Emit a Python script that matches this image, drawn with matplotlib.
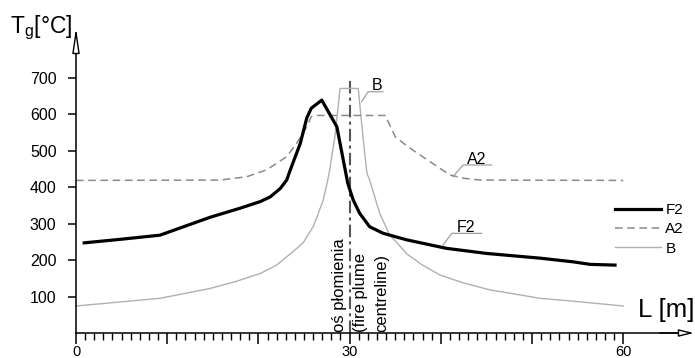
import matplotlib
matplotlib.use('Agg')
import matplotlib.pyplot as plt

plt.rcParams['font.family'] = ['Liberation Sans', 'DejaVu Sans']
plt.rcParams['mathtext.fontset'] = 'custom'
plt.rcParams['mathtext.rm'] = 'Liberation Sans'

# F2 - thick black curve
f2_L = [0.9, 5, 9.2, 14.7, 18, 20.2, 21.3, 22.4, 23.1, 23.5, 24.6, 25.3, 25.8, 26.95,
        28.6, 29.8, 30.4, 31.1, 32.2, 33.7, 36.3, 40.6, 45, 50.9, 54.5, 56.4, 59.1]
f2_T = [247, 257, 268, 317, 342, 360, 373, 396, 419, 447, 520, 589, 616, 638,
        565, 410, 364, 328, 291, 273, 255, 232, 218, 205, 195, 188, 186]

# A2 - dashed grey curve
a2_L = [0, 15.8, 18.7, 20.9, 23.1, 24.2, 25.3, 25.8, 26.2, 33.9, 35, 36.3, 38, 41, 42.5, 44.3, 60]
a2_T = [418, 419, 428, 447, 483, 520, 565, 593, 596, 596, 538, 512, 483, 433, 424, 419, 418]

# B - thin light grey curve
b_L = [0, 9.2, 14.7, 17.5, 20.2, 22, 23.8, 24.9, 26, 26.5, 27.1, 27.6, 27.8, 28.4, 28.95,
       30.95, 31.14, 31.5, 31.9, 32.2, 33.3, 34.4, 35.2, 36.3, 38, 39.9, 42.5, 45.4,
       50.9, 55, 60]
b_T = [74, 95, 122, 141, 163, 186, 223, 247, 291, 323, 364, 419, 445, 540, 670,
       670, 620, 529, 437, 419, 328, 268, 247, 216, 186, 159, 137, 118,
       95, 86, 74]

yticks = [100, 200, 300, 400, 500, 600, 700]
xticks = [0, 10, 20, 30, 40, 50, 60]
xticklabels = ['0', '', '', '30', '', '', '60']
plume_x = 30


fig = plt.figure(figsize=(6.95, 3.58), dpi=100)
ax = fig.add_axes([0, 0, 1, 1])
ax.set_xlim(-8.333, 67.87)
ax.set_ylim(-68.49, 912.33)

ax.plot(b_L, b_T, color='#b0b0b0', lw=1.0, label='B', zorder=2)
ax.plot(a2_L, a2_T, color='#8a8a8a', lw=1.1, ls=(0, (5, 3)), label='A2', zorder=2)
ax.plot(f2_L, f2_T, color='black', lw=2.3, label='F2', zorder=3)

# plume centreline
ax.plot([plume_x, plume_x], [0, 702], color='#555555', lw=1.5, ls=(0, (6, 2, 1.5, 2)), zorder=1)
ax.text(28.1, 4, 'oś płomienia\n(fire plume\ncentreline)', rotation=90,
        ha='left', va='bottom', multialignment='left', fontsize=12, linespacing=1.5)

# curve labels with leaders
lead = '#a0a0a0'
ax.plot([31.33, 32.02, 33.66], [633.7, 661, 661], color=lead, lw=0.9)
ax.text(32.4, 665, 'B', fontsize=11.5, ha='left', va='baseline')
ax.plot([41.34, 42.43, 45.58], [428.2, 460.3, 460.3], color=lead, lw=0.9)
ax.text(42.9, 464, 'A2', fontsize=11.5, ha='left', va='baseline')
ax.plot([40.24, 41.2, 44.48], [241, 273, 273], color=lead, lw=0.9)
ax.text(41.8, 278, 'F2', fontsize=11.5, ha='left', va='baseline')

# axes
for s in ['top', 'right']:
    ax.spines[s].set_visible(False)
ax.spines['left'].set_position(('data', 0))
ax.spines['bottom'].set_position(('data', 0))
ax.spines['left'].set_bounds(0, 820)
ax.spines['bottom'].set_bounds(0, 67)
ax.spines['left'].set_linewidth(1.1)
ax.spines['bottom'].set_linewidth(1.1)

ax.annotate('', xy=(0, 836), xytext=(0, 770),
            arrowprops=dict(arrowstyle='-|>,head_length=1.5,head_width=0.22',
                            fc='white', ec='black', lw=1.0, shrinkA=0, shrinkB=0))
ax.annotate('', xy=(67.75, 0), xytext=(64, 0),
            arrowprops=dict(arrowstyle='-|>,head_length=0.9,head_width=0.22',
                            fc='white', ec='black', lw=1.0, shrinkA=0, shrinkB=0))

ax.set_yticks(yticks)
ax.set_xticks(xticks)
ax.set_xticklabels(xticklabels)
ax.set_xticks(range(0, 61), minor=True)
ax.tick_params(axis='y', direction='out', length=6, width=1.1, pad=8, labelsize=11.5)
ax.tick_params(axis='x', which='major', direction='out', length=8, width=1.1, pad=0.5,
               labelsize=10.5)
ax.tick_params(axis='x', which='minor', direction='out', length=5, width=1.0)

ax.text(-7.2, 822, r'T$_\mathregular{g}$[°C]', fontsize=16.5, ha='left', va='baseline')
ax.text(61.6, 44.7, 'L [m]', fontsize=18.5, ha='left', va='baseline')

ax.legend(loc='upper left', bbox_to_anchor=(615 / 695, 1 - 203 / 358), frameon=False,
          fontsize=11, handlelength=3.0, handletextpad=0.3, labelspacing=0.35,
          borderpad=0, borderaxespad=0,
          handles=[ax.lines[2], ax.lines[1], ax.lines[0]])

fig.savefig('out.png', dpi=100)
